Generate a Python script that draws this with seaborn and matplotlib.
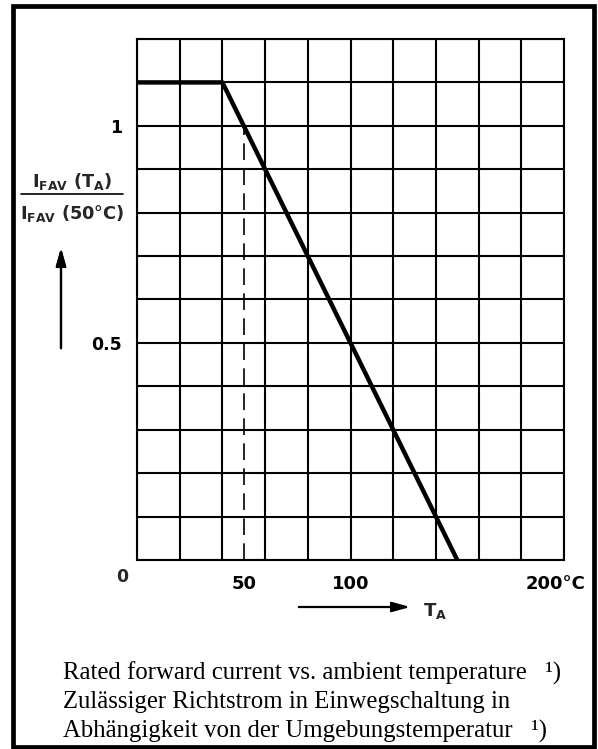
import numpy as np
import pandas as pd
import matplotlib
matplotlib.use("Agg")
import matplotlib.pyplot as plt
import matplotlib.transforms as mtransforms
import seaborn as sns
from matplotlib.patches import Rectangle
from matplotlib.lines import Line2D

# -------------------------------
# Data
# -------------------------------
temp_c = [0, 40, 150]            # ambient temperature T_A in degC
current_ratio = [1.1, 1.1, 0.0]  # I_FAV(T_A) / I_FAV(50 degC)

ref_temp = 50      # dashed reference line
ref_ratio = 1.0

x_tick_vals = [50, 100, 200]
x_tick_labels = ["50", "100", "200°C"]
y_tick_vals = [0.5, 1.0]
y_tick_labels = ["0.5", "1"]

caption_lines = [
    "Rated forward current vs. ambient temperature   \u00b9)",
    "Zulässiger Richtstrom in Einwegschaltung in",
    "Abhängigkeit von der Umgebungstemperatur   \u00b9)",
]

df = pd.DataFrame({"T_A": temp_c, "ratio": current_ratio})

# -------------------------------
# Style
# -------------------------------
sns.set_theme(style="white")
plt.rcParams["font.family"] = ["DejaVu Sans"]
plt.rcParams["mathtext.fontset"] = "custom"
plt.rcParams["mathtext.rm"] = "DejaVu Sans:bold"
plt.rcParams["mathtext.it"] = "DejaVu Sans:bold"
plt.rcParams["mathtext.bf"] = "DejaVu Sans:bold"
plt.rcParams["mathtext.default"] = "rm"

W, H = 598, 749
fig = plt.figure(figsize=(W / 100, H / 100), dpi=100)
fig.patch.set_facecolor("white")

def fx(px):
    return px / W

def fy(py):
    return 1 - py / H

ax = fig.add_axes([fx(137), fy(560), fx(564) - fx(137), fy(39) - fy(560)])

# grid (every 20 degC, every 0.1)
ax.vlines(np.arange(0, 201, 20), 0, 1.2, color="black", lw=1.5, zorder=1)
ax.hlines(np.arange(0, 1.21, 0.1), 0, 200, color="black", lw=1.5, zorder=1)

# reference line at 50 degC
ax.vlines(ref_temp, 0, ref_ratio, color="black", lw=1.2,
          linestyles=(0, (10, 5)), zorder=2)

# derating curve
sns.lineplot(data=df, x="T_A", y="ratio", color="black", linewidth=3.2,
             ax=ax, zorder=3)

ax.set_xlim(0, 200)
ax.set_ylim(0, 1.2)
ax.set_xlabel("")
ax.set_ylabel("")

ax.set_xticks(x_tick_vals)
ax.set_xticklabels(x_tick_labels, fontsize=13, fontweight="bold")
ax.set_yticks(y_tick_vals)
ax.set_yticklabels(y_tick_labels, fontsize=12.5, fontweight="bold")
ax.tick_params(axis="both", direction="out", length=4, width=1.2,
               color="black", labelcolor="black")
ax.tick_params(axis="x", pad=7)
ax.tick_params(axis="y", pad=7)
for sp in ax.spines.values():
    sp.set_color("black")
    sp.set_linewidth(1.5)

# the "200°C" label sits a little left of its tick
shift = mtransforms.ScaledTranslation(-8 / 100, 0, fig.dpi_scale_trans)
lbl = ax.get_xticklabels()[-1]
lbl.set_transform(lbl.get_transform() + shift)

# corner "0"
ax.annotate("0", xy=(0, 0), xytext=(-11, -12), textcoords="offset points",
            ha="center", va="center", fontsize=12.5, fontweight="bold")

# y label as fraction with arrow
fig.text(fx(72), fy(182), r"$\mathrm{I_{FAV}\ (T_A)}$", ha="center",
         va="center", fontsize=12.8)
fig.text(fx(72), fy(213), r"$\mathrm{I_{FAV}\ (50°C)}$", ha="center",
         va="center", fontsize=12.8)
fig.add_artist(Line2D([fx(21), fx(123)], [fy(194), fy(194)],
                      transform=fig.transFigure, color="black", lw=1.2))
fig.add_artist(plt.annotate("", xy=(fx(61), fy(245)), xytext=(fx(61), fy(351)),
                            xycoords="figure fraction",
                            arrowprops=dict(arrowstyle="-|>,head_length=0.9,head_width=0.25",
                                            color="black", lw=1.6)))

# x label with arrow
ax.annotate("", xy=(fx(413), fy(607)), xytext=(fx(296), fy(607)),
            xycoords="figure fraction",
            arrowprops=dict(arrowstyle="-|>,head_length=0.9,head_width=0.25",
                            color="black", lw=1.6))
fig.text(fx(423), fy(611), r"$\mathrm{T_A}$", ha="left", va="center",
         fontsize=13)

# caption
for i, line in enumerate(caption_lines):
    fig.text(fx(63), fy(673 + 29 * i), line, ha="left", va="center",
             fontsize=17.8, family="Liberation Serif", color="black")

# outer frame
fig.add_artist(Rectangle((fx(13), fy(747)), fx(594) - fx(13), fy(6) - fy(747),
                         transform=fig.transFigure, fill=False,
                         edgecolor="black", lw=3.4))

fig.savefig("out.png", dpi=100)
